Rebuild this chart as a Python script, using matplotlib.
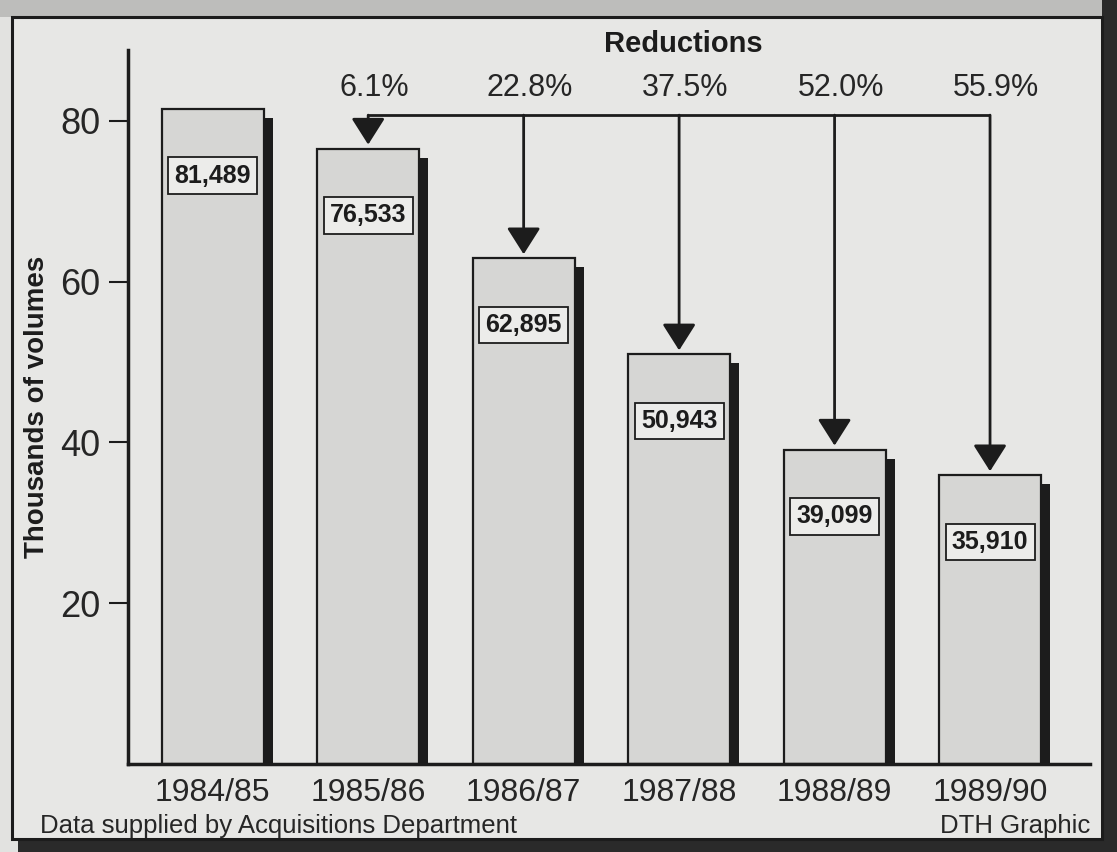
import matplotlib
matplotlib.use('Agg')
import matplotlib.pyplot as plt
from matplotlib.patches import Rectangle

# donnees
seasons = ['1984/85', '1985/86', '1986/87', '1987/88', '1988/89', '1989/90']
volumes = [81489, 76533, 62895, 50943, 39099, 35910]
reductions = ['6.1%', '22.8%', '37.5%', '52.0%', '55.9%']
yticks = [20, 40, 60, 80]

NARROW = ['Liberation Sans Narrow', 'Liberation Sans', 'DejaVu Sans']
REG = ['Liberation Sans', 'DejaVu Sans']
INK = '#1c1c1c'
TXT = '#262626'

W, H = 1117, 852
fig = plt.figure(figsize=(W / 100, H / 100), dpi=100)
fig.patch.set_facecolor('#e2e2e0')

# cadre de journal avec ombre portee (sous les axes)
fig.patches.append(Rectangle((0, 1 - 17 / H), 1, 17 / H, transform=fig.transFigure,
                             fc='#bdbdbb', ec='none', zorder=-3))
fig.patches.append(Rectangle((1102 / W, 0), 15 / W, 1, transform=fig.transFigure,
                             fc='#2a2a2a', ec='none', zorder=-3))
fig.patches.append(Rectangle((18 / W, 0), 1 - 18 / W, 13 / H, transform=fig.transFigure,
                             fc='#2a2a2a', ec='none', zorder=-3))
fig.patches.append(Rectangle((12 / W, 1 - 839 / H), 1090 / W, 822 / H, transform=fig.transFigure,
                             fc='#e7e7e5', ec=INK, lw=2.2, zorder=-2))

ax = fig.add_axes([128 / W, 1 - 764 / H, 962 / W, 714 / H])
ax.set_facecolor('none')

x = list(range(len(seasons)))
h = [v / 1000 for v in volumes]

# ombre puis barre
ax.bar([i + 0.058 for i in x], [v - 1.12 for v in h], width=0.656, color=INK, zorder=1)
ax.bar(x, h, width=0.656, color='#d6d6d4', edgecolor=INK, lw=1.6, zorder=2)

for i, v in enumerate(volumes):
    ax.text(x[i], h[i] - 8.3, f'{v:,}', ha='center', va='center', fontsize=18,
            fontweight='bold', family=NARROW, color=INK, zorder=4,
            bbox=dict(boxstyle='square,pad=0.25', fc='#ececea', ec=INK, lw=1.3))

# accolade des reductions
y_br = 80.7
ax.plot([x[1], x[-1]], [y_br, y_br], color=INK, lw=2, solid_capstyle='butt', zorder=3)
for i in range(1, len(seasons)):
    ax.annotate('', xy=(x[i], h[i] + 0.5), xytext=(x[i], y_br),
                arrowprops=dict(arrowstyle='-|>,head_length=0.82,head_width=0.52',
                                mutation_scale=20, color=INK, lw=2, shrinkA=0, shrinkB=0),
                zorder=3)
    ax.text(x[i] + 0.04, 84.1, reductions[i - 1], ha='center', va='center', fontsize=22,
            family=NARROW, color=TXT)
ax.text(3.03, 89.6, 'Reductions', ha='center', va='center', fontsize=21,
        fontweight='bold', family=NARROW, color=INK)

ax.set_xlim(-0.545, 5.643)
ax.set_ylim(0, 88.8)
ax.set_yticks(yticks)
ax.set_yticklabels([str(t) for t in yticks], family=NARROW, fontsize=26, color=TXT)
ax.set_xticks(x)
ax.set_xticklabels(seasons, family=NARROW, fontsize=23, color=TXT)
ax.tick_params(axis='y', length=14, width=1.5, color=INK, pad=6)
ax.tick_params(axis='x', length=0, pad=10)
ax.set_ylabel('Thousands of volumes', fontsize=20, fontweight='bold', family=NARROW, color=INK)
ax.yaxis.set_label_coords(-0.081, 0.5)
for s in ['top', 'right']:
    ax.spines[s].set_visible(False)
for s in ['left', 'bottom']:
    ax.spines[s].set_linewidth(2.5)
    ax.spines[s].set_color(INK)

fig.text(40 / W, 1 - 826 / H, 'Data supplied by Acquisitions Department', va='center',
         fontsize=18.5, family=REG, color=TXT)
fig.text(1090 / W, 1 - 826 / H, 'DTH Graphic', ha='right', va='center',
         fontsize=18.5, family=REG, color=TXT)

fig.savefig('out.png', dpi=100, facecolor=fig.get_facecolor())
